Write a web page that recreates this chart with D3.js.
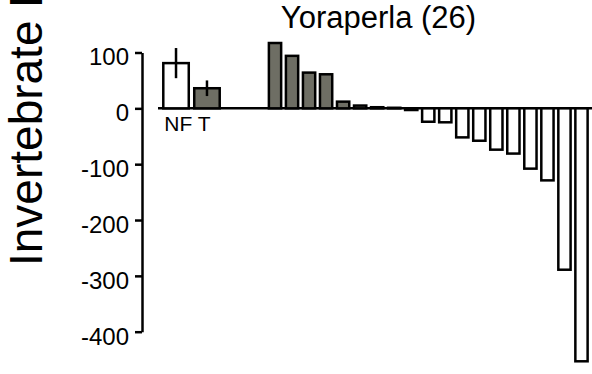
<!DOCTYPE html>
<html>
<head>
<meta charset="utf-8">
<script src="https://cdn.jsdelivr.net/npm/d3@7"></script>
<style>
  html, body { margin: 0; padding: 0; background: #fff; }
  svg { display: block; font-family: "Liberation Sans", Arial, sans-serif; }
</style>
</head>
<body>
<svg id="chart" width="592" height="374"></svg>
<script>
// Treatment means (no fish, trout) with error bars
const treatments = ["NF", "T"];
const treatmentMeans = [81, 36];
const treatmentErrors = [27, 14];

// Per-site differences, ordered from largest gain to largest loss
const siteValues = [117, 94, 64, 61, 12, 5, 2, 1, -3,
                    -24, -25, -52, -58, -74, -81, -108, -129, -289, -453];

const yTicks = [100, 0, -100, -200, -300, -400];
const title = "Yoraperla (26)";
const yLabel = "Invertebrate Density";

const grey = "#6e6e64";
const stroke = 2.5;

const svg = d3.select("#chart");
const W = 592;

const y = d3.scaleLinear().domain([-400, 100]).range([331.7, 52.5]);

const xT = d3.scaleBand().domain(treatments).range([160.5, 222.5])
  .paddingInner(0.177).paddingOuter(0.09);

const xS = d3.scaleBand().domain(d3.range(siteValues.length)).range([266.5, 590])
  .paddingInner(0.28).paddingOuter(0.14);

// Y axis (plain hyphen for negative numbers)
const axis = d3.axisLeft(y).tickValues(yTicks).tickSize(7).tickSizeOuter(0)
  .tickPadding(6).tickFormat(d => String(d));
const gAxis = svg.append("g").attr("transform", "translate(142,0)").call(axis);
gAxis.select(".domain").attr("stroke", "#000").attr("stroke-width", stroke);
gAxis.selectAll(".tick line").attr("stroke", "#000").attr("stroke-width", stroke);
gAxis.selectAll(".tick text")
  .attr("fill", "#000")
  .attr("font-size", 24)
  .attr("font-family", "Liberation Sans, Arial, sans-serif")
  .attr("dy", "0.52em");

// Zero baseline
svg.append("line")
  .attr("x1", 158).attr("x2", W)
  .attr("y1", y(0)).attr("y2", y(0))
  .attr("stroke", "#000").attr("stroke-width", stroke);

// Treatment bars
const tData = treatments.map((t, i) => ({ t, v: treatmentMeans[i], e: treatmentErrors[i] }));
svg.append("g").selectAll("rect").data(tData).join("rect")
  .attr("x", d => xT(d.t))
  .attr("width", xT.bandwidth())
  .attr("y", d => y(Math.max(0, d.v)))
  .attr("height", d => Math.abs(y(d.v) - y(0)))
  .attr("fill", (d, i) => i === 0 ? "#fff" : grey)
  .attr("stroke", "#000").attr("stroke-width", stroke);

svg.append("g").selectAll("line").data(tData).join("line")
  .attr("x1", d => xT(d.t) + xT.bandwidth() / 2)
  .attr("x2", d => xT(d.t) + xT.bandwidth() / 2)
  .attr("y1", d => y(d.v + d.e))
  .attr("y2", d => y(d.v - d.e))
  .attr("stroke", "#000").attr("stroke-width", stroke);

svg.append("text")
  .attr("x", xT(treatments[0]) + 1)
  .attr("y", 131)
  .attr("font-size", 21)
  .attr("fill", "#000")
  .text(treatments.join(" "));

// Site bars
svg.append("g").selectAll("rect").data(siteValues).join("rect")
  .attr("x", (d, i) => xS(i))
  .attr("width", xS.bandwidth())
  .attr("y", d => y(Math.max(0, d)))
  .attr("height", d => Math.abs(y(d) - y(0)))
  .attr("fill", d => d >= 0 ? grey : "#fff")
  .attr("stroke", "#000").attr("stroke-width", stroke);

// Title
svg.append("text")
  .attr("x", 378.5).attr("y", 27.5)
  .attr("text-anchor", "middle")
  .attr("font-size", 31)
  .attr("fill", "#000")
  .text(title);

// Y label
svg.append("text")
  .attr("transform", "translate(42,266) rotate(-90)")
  .attr("font-size", 46)
  .attr("fill", "#000")
  .text(yLabel);
</script>
</body>
</html>
